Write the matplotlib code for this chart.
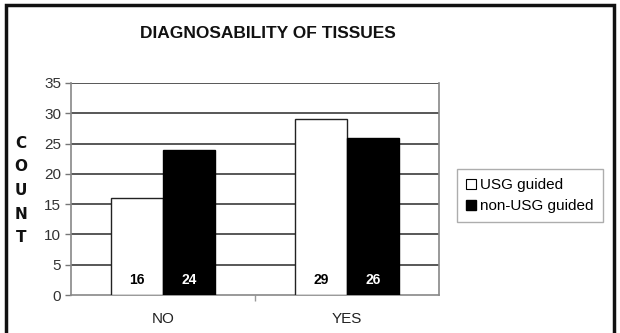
import matplotlib
matplotlib.use("Agg")
import matplotlib.pyplot as plt
from matplotlib.lines import Line2D
from matplotlib.patches import Rectangle
import numpy as np

plt.rcParams['font.family'] = ['Liberation Sans', 'DejaVu Sans']

categories = ["NO", "YES"]
series_names = ["USG guided", "non-USG guided"]
usg_guided = [16, 29]
non_usg_guided = [24, 26]
y_ticks = [0, 5, 10, 15, 20, 25, 30, 35]
title = "DIAGNOSABILITY OF TISSUES"
y_label = "COUNT"

fig = plt.figure(figsize=(6.2, 3.33), dpi=100)
ax = fig.add_axes([0.1145, 0.1141, 0.5935, 0.6367])

x = np.arange(len(categories))
w = 0.283
grid_c = "#4a4a4a"

for yv in y_ticks[1:]:
    ax.axhline(yv, color=grid_c, lw=1.3, zorder=1)

b1 = ax.bar(x - w / 2, usg_guided, w, color="white", edgecolor="#222222", lw=1.0, zorder=3)
b2 = ax.bar(x + w / 2, non_usg_guided, w, color="black", edgecolor="black", lw=1.0, zorder=3)

for xi, v in zip(x - w / 2, usg_guided):
    ax.text(xi, 2.4, str(v), ha="center", va="center", fontsize=10, fontweight="bold",
            color="black", zorder=4)
for xi, v in zip(x + w / 2, non_usg_guided):
    ax.text(xi, 2.4, str(v), ha="center", va="center", fontsize=10, fontweight="bold",
            color="white", zorder=4)

ax.set_xlim(-0.5, 1.5)
ax.set_ylim(0, 35)
ax.set_yticks(y_ticks)
ax.set_yticklabels([str(t) for t in y_ticks], fontsize=11, color="#333333")
ax.tick_params(axis="y", length=4, width=1, color="#777777", pad=3)
ax.set_xticks(x)
ax.set_xticklabels(categories, fontsize=11, color="#222222")
ax.tick_params(axis="x", length=0, pad=12)
ax.set_xticks([0.5], minor=True)
ax.tick_params(axis="x", which="minor", length=4, width=1, color="#999999")

for side in ["left", "bottom", "right"]:
    ax.spines[side].set_color("#888888")
    ax.spines[side].set_linewidth(1.2)
ax.spines["top"].set_visible(False)

fig.text(0.432, 0.90, title, ha="center", va="center", fontsize=12.5, fontweight="bold",
         color="#111111")

# stacked vertical axis label
letters = list(y_label)
for i, ch in enumerate(letters):
    fig.text(0.034, 0.57 - i * 0.071, ch, ha="center", va="center", fontsize=11,
             fontweight="bold", color="#111111", family=['DejaVu Sans'])

handles = [
    Line2D([], [], marker="s", ls="none", markersize=6.5, markerfacecolor="white",
           markeredgecolor="black", markeredgewidth=0.8),
    Line2D([], [], marker="s", ls="none", markersize=6.5, markerfacecolor="black",
           markeredgecolor="black"),
]
leg = fig.legend(handles, series_names, loc="upper left", bbox_to_anchor=(0.725, 0.515),
                 fontsize=11, frameon=True, fancybox=False, handlelength=0.6,
                 handletextpad=0.3, borderpad=0.6, labelspacing=0.45)
leg.get_frame().set_edgecolor("#999999")
leg.get_frame().set_linewidth(1.0)

# outer frame
fig.patches.append(Rectangle((0.009, -0.01), 0.982, 0.995, transform=fig.transFigure,
                             fill=False, edgecolor="#111111", lw=2.5))

fig.savefig("out.png", dpi=100, facecolor="white")
